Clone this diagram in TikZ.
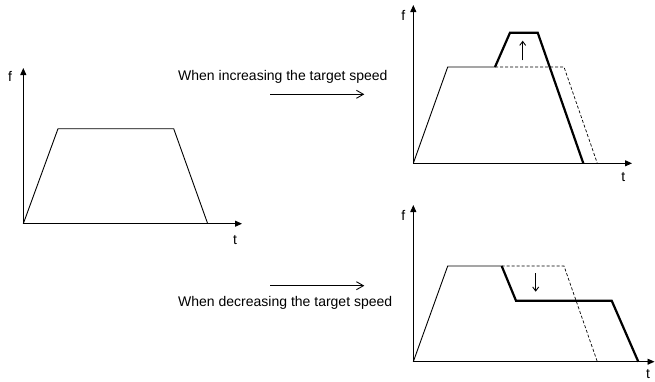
\documentclass[tikz,border=0pt]{standalone}
\usepackage{fontspec}
\setmainfont{Liberation Sans}
\usetikzlibrary{arrows.meta,positioning}
\tikzset{
  axis/.style={-{Triangle[length=7pt,width=6pt]}, line width=0.9pt},
  ramp/.style={line width=0.9pt, line join=miter},
  newramp/.style={line width=2.2pt, line join=miter},
  oldramp/.style={line width=0.7pt, dash pattern=on 3pt off 2pt},
  arrow/.style={-{Straight Barb[length=7pt,width=8pt]}, line width=0.9pt},
  speedarrow/.style={-{Straight Barb[length=4pt,width=6pt]}, line width=0.9pt},
  lbl/.style={font=\fontsize{14}{16}\selectfont, inner sep=0pt}
}
\begin{document}
\begin{tikzpicture}[x=1pt, y=-1pt]
  \useasboundingbox (0,0) rectangle (655,381);

  % original profile
  \coordinate (o1) at (23.3,223.7);
  \draw[axis] (o1) -- (23.3,68);
  \draw[axis] (o1) -- (242,223.7);
  \draw[ramp] (o1) -- (58,128.7) -- (173.7,128.7) -- (207.7,223.7);
  \node[lbl] (f1) at (10,76) {f};
  \node[lbl] (t1) at (235,240) {t};

  % increasing
  \coordinate (o2) at (413.3,163.3);
  \draw[axis] (o2) -- (413.3,5);
  \draw[axis] (o2) -- (632,163.3);
  \draw[ramp] (o2) -- (447.7,67) -- (495,67);
  \draw[oldramp] (495,67) -- (564,67) -- (597.3,163.3);
  \draw[newramp] (495,67) -- (510,32.7) -- (537.7,32.7) -- (583.3,163.3);
  \draw[speedarrow] (522.7,60.3) -- (522.7,40.7);
  \node[lbl] (f2) at (403.3,15) {f};
  \node[lbl] (t2) at (623.3,176.7) {t};

  % decreasing
  \coordinate (o3) at (413.3,361.7);
  \draw[axis] (o3) -- (413.3,205);
  \draw[axis] (o3) -- (654.5,361.7);
  \draw[ramp] (o3) -- (447.7,266) -- (501.7,266);
  \draw[oldramp] (501.7,266) -- (564,266) -- (597.3,361.7);
  \draw[newramp] (501.7,266) -- (516,300.7) -- (611.7,300.7) -- (638.3,361.7);
  \draw[speedarrow] (535.7,273.3) -- (535.7,291.7);
  \node[lbl] (f3) at (403.3,215) {f};
  \node[lbl] (t3) at (648,374) {t};

  % captions
  \node[lbl, anchor=base west] (inc) at (178,80.7) {When increasing the target speed};
  \node[lbl, anchor=base west] (dec) at (178,306.5) {When decreasing the target speed};
  \coordinate (incA) at (270,94.3);
  \coordinate (incB) at (364.3,94.3);
  \coordinate (decA) at (270,285.7);
  \coordinate (decB) at (364.3,285.7);
  \draw[arrow] (incA) -- (incB);
  \draw[arrow] (decA) -- (decB);
\end{tikzpicture}
\end{document}
